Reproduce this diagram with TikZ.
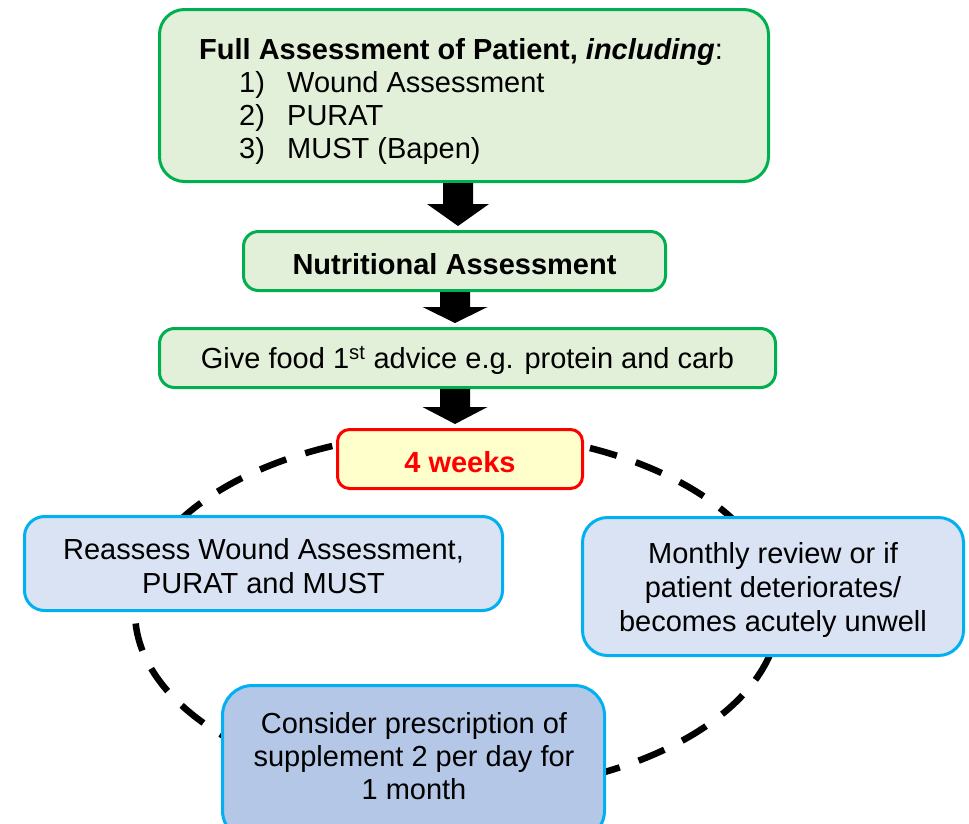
\documentclass[tikz,border=0pt]{standalone}
\usepackage{fontspec}
\setmainfont{Liberation Sans}
\usetikzlibrary{calc}
\definecolor{gborder}{HTML}{00B050}
\definecolor{gfill}{HTML}{E2F0D9}
\definecolor{rborder}{HTML}{FF0000}
\definecolor{yfill}{HTML}{FFFFCC}
\definecolor{bborder}{HTML}{00B0F0}
\definecolor{bfill}{HTML}{DAE3F3}
\definecolor{bdark}{HTML}{B4C7E7}
\tikzset{
  box/.style={draw, line width=3pt, inner sep=0pt, align=center,
    font=\fontsize{29}{34}\selectfont},
  greenbox/.style={box, draw=gborder, fill=gfill},
  redbox/.style={box, draw=rborder, fill=yfill},
  bluebox/.style={box, draw=bborder, fill=bfill},
  darkbox/.style={box, draw=bborder, fill=bdark},
  plain/.style={inner sep=0pt, align=center, font=\fontsize{29}{33}\selectfont},
  loopline/.style={draw=black, line width=6.5pt, dash pattern=on 28pt off 20pt},
  blk/.style={fill=black}
}
\newcommand{\dn}{\rule{0pt}{27pt}}
% #1 from node, #2 to node, #3 centre x, #4 head length, #5 head half width
\newcommand{\blkarrow}[5]{%
  \fill[blk] let \p1=(#1.south), \p2=(#2.north) in
    ({#3pt-15pt},\y1) -- ({#3pt-15pt},{\y2+4pt+#4}) -- ({#3pt-#5},{\y2+4pt+#4}) --
    (#3pt,{\y2+4pt}) -- ({#3pt+#5},{\y2+4pt+#4}) -- ({#3pt+15pt},{\y2+4pt+#4}) --
    ({#3pt+15pt},\y1) -- cycle;}
\begin{document}
\begin{tikzpicture}[x=1pt,y=-1pt]
\useasboundingbox (0,0) rectangle (969,823);
\clip (0,0) rectangle (969,823);
% cycle ellipse
\path[loopline] (457,612) ellipse [x radius=322pt, y radius=180pt];
% top box
\node[greenbox, rounded corners=25pt, minimum width=609pt, minimum height=172pt] (full) at (464,95.5) {};
\node[plain, align=left, anchor=west] (fulltext) at (199,101.5)
  {\textbf{Full Assessment of Patient, \textit{including}}:\\
   \hspace*{40pt}\makebox[48pt][l]{1)}Wound Assessment\\
   \hspace*{40pt}\makebox[48pt][l]{2)}PURAT\\
   \hspace*{40pt}\makebox[48pt][l]{3)}MUST (Bapen)};
\node[greenbox, rounded corners=15pt, minimum width=422pt, minimum height=59pt] (nutri) at (454.5,261)
  {\dn\textbf{Nutritional Assessment}};
\node[greenbox, rounded corners=15pt, minimum width=616pt, minimum height=59pt] (food) at (467.5,358)
  {\dn Give food 1\textsuperscript{st} advice e.g. protein and carb};
\node[redbox, rounded corners=12pt, minimum width=245pt, minimum height=59pt] (weeks) at (460,459)
  {\dn\textcolor{rborder}{\textbf{4 weeks}}};
\node[bluebox, rounded corners=20pt, minimum width=478pt, minimum height=94pt] (reassess) at (263.5,563.5)
  {\dn Reassess Wound Assessment,\\PURAT and MUST};
\node[bluebox, rounded corners=25pt, minimum width=381pt, minimum height=138pt] (monthly) at (773,586.5)
  {\dn Monthly review or if\\patient deteriorates/\\becomes acutely unwell};
\node[darkbox, rounded corners=30pt, minimum width=382pt, minimum height=155pt] (consider) at (413.5,763) {};
\node[plain] (considertext) at (414,756.5)
  {Consider prescription of\\supplement 2 per day for\\1 month};
% block arrows
\blkarrow{full}{nutri}{458}{22pt}{31pt}
\blkarrow{nutri}{food}{455}{16pt}{32.5pt}
\blkarrow{food}{weeks}{455}{17pt}{32.5pt}
\end{tikzpicture}
\end{document}
